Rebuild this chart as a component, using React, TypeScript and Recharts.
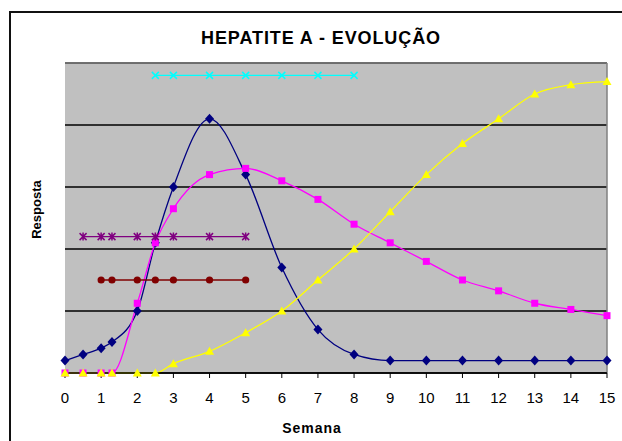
import React from "react";
import { LineChart, Line, XAxis, YAxis, CartesianGrid, ReferenceLine } from "recharts";

// semanas (eixo x) e respostas de cada curva
const weeks = [0, 0.5, 1, 1.3, 2, 2.5, 3, 4, 5, 6, 7, 8, 9, 10, 11, 12, 13, 14, 15];
const navyY = [4, 6, 8, 10, 20, 42, 60, 82, 64, 34, 14, 6, 4, 4, 4, 4, 4, 4, 4];
const magentaY = [0, 0, 0, 0, 22.5, 42, 53, 64, 66, 62, 56, 48, 42, 36, 30, 26.5, 22.5, 20.5, 18.5];
const yellowY = [0, 0, 0, 0, 0, 0, 3, 7, 13, 20, 30, 40, 52, 64, 74, 82, 90, 93, 94];

const cyanX = [2.5, 3, 4, 5, 6, 7, 8];
const cyanLevel = 96;
const purpleX = [0.5, 1, 1.3, 2, 2.5, 3, 4, 5];
const purpleLevel = 44;
const redX = [1, 1.3, 2, 2.5, 3, 4, 5];
const redLevel = 30;

const xTicks = [0, 1, 2, 3, 4, 5, 6, 7, 8, 9, 10, 11, 12, 13, 14, 15];
const yTicks = [0, 20, 40, 60, 80];

const navy = weeks.map((x, i) => ({ x, y: navyY[i] }));
const magenta = weeks.map((x, i) => ({ x, y: magentaY[i] }));
const yellow = weeks.map((x, i) => ({ x, y: yellowY[i] }));
const cyan = cyanX.map((x) => ({ x, y: cyanLevel }));
const purple = purpleX.map((x) => ({ x, y: purpleLevel }));
const red = redX.map((x) => ({ x, y: redLevel }));

const FONT = '"Liberation Sans", Arial, sans-serif';

const diamond = (p: any) => (
  <path
    key={p.key}
    d={`M${p.cx},${p.cy - 5}L${p.cx + 4.5},${p.cy}L${p.cx},${p.cy + 5}L${p.cx - 4.5},${p.cy}Z`}
    fill="#000080"
  />
);
const square = (p: any) => (
  <rect key={p.key} x={p.cx - 3.5} y={p.cy - 3.5} width={7} height={7} fill="#FF00FF" />
);
const triangle = (p: any) => (
  <path
    key={p.key}
    d={`M${p.cx},${p.cy - 4.5}L${p.cx + 4.5},${p.cy + 3.5}L${p.cx - 4.5},${p.cy + 3.5}Z`}
    fill="#FFFF00"
  />
);
const cross = (p: any) => (
  <path
    key={p.key}
    d={`M${p.cx - 3.5},${p.cy - 3.5}L${p.cx + 3.5},${p.cy + 3.5}M${p.cx + 3.5},${p.cy - 3.5}L${p.cx - 3.5},${p.cy + 3.5}`}
    stroke="#00FFFF"
    strokeWidth={1.5}
  />
);
const star = (p: any) => (
  <path
    key={p.key}
    d={`M${p.cx - 3.5},${p.cy - 3.5}L${p.cx + 3.5},${p.cy + 3.5}M${p.cx + 3.5},${p.cy - 3.5}L${p.cx - 3.5},${p.cy + 3.5}M${p.cx},${p.cy - 4}L${p.cx},${p.cy + 4}`}
    stroke="#800080"
    strokeWidth={1.5}
  />
);
const circle = (p: any) => <circle key={p.key} cx={p.cx} cy={p.cy} r={3.6} fill="#800000" />;

const noTick = () => <g />;

export default function App() {
  return (
    <div
      style={{
        position: "absolute",
        left: 0,
        top: 0,
        width: 622,
        height: 441,
        overflow: "hidden",
        background: "#fff",
        fontFamily: FONT,
      }}
    >
      <div
        style={{
          position: "absolute",
          left: 9,
          top: 11,
          width: 700,
          height: 600,
          border: "2px solid #111",
        }}
      />
      <LineChart
        width={622}
        height={441}
        margin={{ top: 63, right: 15, bottom: 38, left: 65 }}
        style={{ position: "absolute", left: 0, top: 0 }}
      >
        <CartesianGrid vertical={false} stroke="#000" strokeWidth={1.3} fill="#C0C0C0" fillOpacity={1} />
        <XAxis
          type="number"
          dataKey="x"
          domain={[0, 15]}
          ticks={xTicks}
          interval={0}
          height={30}
          tickSize={5}
          tickMargin={14}
          axisLine={{ stroke: "#000", strokeWidth: 1.3 }}
          tickLine={{ stroke: "#000" }}
          tick={{ fill: "#000", fontSize: 15, fontFamily: FONT }}
        />
        <YAxis
          type="number"
          domain={[0, 100]}
          ticks={yTicks}
          interval={0}
          width={0}
          tick={noTick}
          tickLine={false}
          axisLine={{ stroke: "#808080", strokeWidth: 1.5 }}
        />
        <ReferenceLine y={100} stroke="#808080" strokeWidth={1.5} />
        <ReferenceLine x={15} stroke="#808080" strokeWidth={1.5} />
        <Line data={navy} dataKey="y" type="monotone" stroke="#000080" strokeWidth={1.3} dot={diamond} isAnimationActive={false} />
        <Line data={magenta} dataKey="y" type="monotone" stroke="#FF00FF" strokeWidth={1.3} dot={square} isAnimationActive={false} />
        <Line data={yellow} dataKey="y" type="monotone" stroke="#FFFF00" strokeWidth={1.3} dot={triangle} isAnimationActive={false} />
        <Line data={cyan} dataKey="y" type="linear" stroke="#00FFFF" strokeWidth={1.3} dot={cross} isAnimationActive={false} />
        <Line data={purple} dataKey="y" type="linear" stroke="#800080" strokeWidth={1.3} dot={star} isAnimationActive={false} />
        <Line data={red} dataKey="y" type="linear" stroke="#800000" strokeWidth={1.3} dot={circle} isAnimationActive={false} />
      </LineChart>
      <div
        style={{
          position: "absolute",
          left: 0,
          width: 642,
          top: 29,
          textAlign: "center",
          fontSize: 18,
          lineHeight: "18px",
          fontWeight: "bold",
          letterSpacing: 0.9,
        }}
      >
        HEPATITE A - EVOLUÇÃO
      </div>
      <div
        style={{
          position: "absolute",
          left: 262,
          width: 100,
          top: 421,
          textAlign: "center",
          fontSize: 14,
          lineHeight: "14px",
          fontWeight: "bold",
          letterSpacing: 1,
        }}
      >
        Semana
      </div>
      <div
        style={{
          position: "absolute",
          left: 35.5 - 50,
          top: 209 - 6.5,
          width: 100,
          height: 13,
          textAlign: "center",
          fontSize: 13,
          lineHeight: "13px",
          fontWeight: "bold",
          transform: "rotate(-90deg)",
        }}
      >
        Resposta
      </div>
    </div>
  );
}
